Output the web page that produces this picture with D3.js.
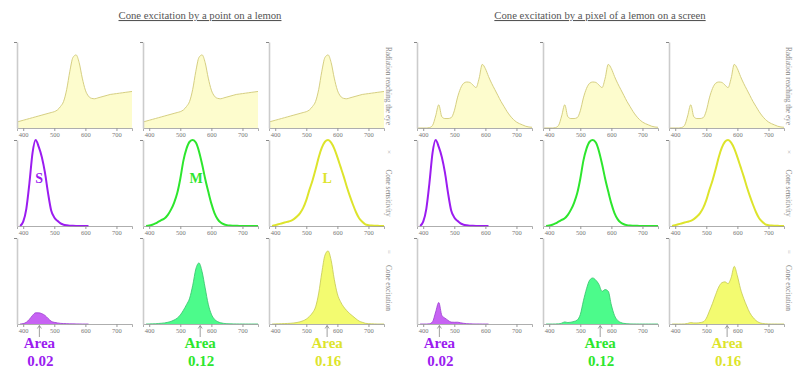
<!DOCTYPE html>
<html>
<head>
<meta charset="utf-8">
<script src="https://cdn.jsdelivr.net/npm/d3@7"></script>
<style>
  body { margin: 0; background: #fff; }
  svg { display: block; font-family: "Liberation Serif", serif; }
</style>
</head>
<body>
<div id="chart"></div>
<script>
// wavelength grid (nm)
const wavelengths = [380, 390, 400, 410, 420, 430, 440, 450, 460, 470, 480, 490, 500, 510, 520, 530, 540, 550, 560,
  570, 580, 590, 600, 610, 620, 630, 640, 650, 660, 670, 680, 690, 700, 710, 720, 730, 740, 750];

// radiation reaching the eye
const lemonPoint = [0.07, 0.08, 0.09, 0.10, 0.11, 0.12, 0.13, 0.14, 0.15, 0.16, 0.17, 0.18, 0.19, 0.21, 0.25, 0.31, 0.45, 0.66, 0.82,
  0.85, 0.76, 0.58, 0.44, 0.37, 0.345, 0.34, 0.35, 0.36, 0.37, 0.38, 0.39, 0.395, 0.40, 0.405, 0.41, 0.415, 0.42, 0.425];
const lemonScreen = [0, 0, 0, 0, 0.005, 0.03, 0.14, 0.27, 0.13, 0.11, 0.11, 0.12, 0.2, 0.35, 0.46, 0.52, 0.535, 0.53, 0.5,
  0.47, 0.58, 0.74, 0.69, 0.6, 0.52, 0.45, 0.38, 0.31, 0.25, 0.19, 0.14, 0.1, 0.07, 0.05, 0.035, 0.02, 0.012, 0.008];

// cone sensitivity
const coneS = [null, 0, 0.05, 0.2, 0.5, 0.85, 1.0, 0.92, 0.8, 0.62, 0.38, 0.18, 0.1, 0.06, 0.03, 0.015, 0.008, 0.004, 0.002,
  0.001, 0.001, 0, 0, 0, null, null, null, null, null, null, null, null, null, null, null, null, null, null];
const coneM = [null, 0, 0.005, 0.015, 0.03, 0.05, 0.07, 0.09, 0.13, 0.19, 0.27, 0.38, 0.55, 0.76, 0.9, 0.98, 1.0, 0.97, 0.87,
  0.72, 0.55, 0.4, 0.26, 0.15, 0.08, 0.04, 0.02, 0.01, 0.005, 0.003, 0.002, 0.001, 0.001, 0, 0, 0, 0, 0];
const coneL = [null, 0, 0.01, 0.02, 0.03, 0.04, 0.05, 0.06, 0.08, 0.11, 0.15, 0.21, 0.3, 0.42, 0.53, 0.66, 0.8, 0.91, 0.98,
  1.0, 0.97, 0.9, 0.8, 0.69, 0.58, 0.46, 0.35, 0.25, 0.16, 0.09, 0.05, 0.02, 0.01, 0.005, 0.003, 0.002, 0.001, 0];

// cone excitation, point on a lemon
const pointS = [null, 0, 0.005, 0.02, 0.055, 0.1, 0.13, 0.13, 0.12, 0.1, 0.065, 0.032, 0.019, 0.013, 0.0075, 0.005, 0.004, 0.002, 0.0016,
  0.001, 0.001, 0, 0, 0, null, null, null, null, null, null, null, null, null, null, null, null, null, null];
const pointM = [null, 0, 0.0005, 0.0015, 0.003, 0.006, 0.009, 0.013, 0.02, 0.03, 0.046, 0.068, 0.105, 0.16, 0.225, 0.3, 0.45, 0.64, 0.71,
  0.61, 0.42, 0.23, 0.114, 0.055, 0.028, 0.014, 0.007, 0.0036, 0.0018, 0.0011, 0.0008, 0.0004, 0.0004, 0, 0, 0, 0, 0];
const pointL = [null, 0, 0.001, 0.002, 0.0033, 0.0048, 0.0065, 0.0084, 0.012, 0.0176, 0.0255, 0.038, 0.057, 0.088, 0.13, 0.2, 0.36, 0.6, 0.8,
  0.85, 0.74, 0.52, 0.35, 0.26, 0.2, 0.156, 0.12, 0.09, 0.06, 0.034, 0.02, 0.008, 0.004, 0.002, 0.001, 0, 0, 0];

// cone excitation, pixel on a screen
const screenS = [null, 0, 0, 0, 0.0025, 0.026, 0.14, 0.25, 0.1, 0.068, 0.042, 0.022, 0.02, 0.021, 0.014, 0.008, 0.004, 0.002, 0.001,
  0.0005, 0.0006, 0, 0, 0, null, null, null, null, null, null, null, null, null, null, null, null, null, null];
const screenM = [null, 0, 0, 0, 0.0002, 0.0015, 0.01, 0.024, 0.017, 0.021, 0.03, 0.046, 0.11, 0.27, 0.41, 0.51, 0.535, 0.51, 0.46,
  0.38, 0.4, 0.38, 0.22, 0.1, 0.042, 0.018, 0.0076, 0.003, 0.0013, 0.0006, 0.0003, 0.0001, 0, 0, 0, 0, 0, 0];
const screenL = [null, 0, 0, 0, 0.0001, 0.0012, 0.007, 0.016, 0.012, 0.012, 0.0165, 0.025, 0.066, 0.15, 0.24, 0.34, 0.43, 0.48, 0.49,
  0.47, 0.54, 0.67, 0.56, 0.41, 0.3, 0.21, 0.13, 0.078, 0.04, 0.017, 0.007, 0.002, 0.0007, 0.0003, 0.0002, 0, 0, 0];

const coneNames = ["S", "M", "L"];
const areaValues = ["0.02", "0.12", "0.16"];
const arrowWavelengths = [452, 564, 567];
const letterWavelengths = [451, 551, 567];
const xTicks = [400, 500, 600, 700];
const rowLabels = ["Radiation reaching the eye", "Cone sensitivity", "Cone excitation"];
const titles = ["Cone excitation by a point on a lemon", "Cone excitation by a pixel of a lemon on a screen"];

const lineColors = ["#9b1cf0", "#2de62d", "#dde42c"];
const fillColors = ["#c763f3", "#4cfb8b", "#f3fb70"];
const fillStrokes = ["#9b3bd0", "#32c26a", "#c4c850"];

const W = 800, H = 377;
const panelLeft = 17, panelStep = 126, panelW = 115;
const rowTops = [42, 140, 238], panelH = 86;

const groups = [
  { gx: 0, title: titles[0], radiation: lemonPoint, excitation: [pointS, pointM, pointL], letters: true },
  { gx: 400, title: titles[1], radiation: lemonScreen, excitation: [screenS, screenM, screenL], letters: false }
];

const svg = d3.select("#chart").append("svg")
  .attr("width", W)
  .attr("height", H);

const x = d3.scaleLinear().domain([380, 750]).range([0, panelW]);

function series(values) {
  return wavelengths.map((w, i) => ({ w, v: values[i] }));
}

groups.forEach(grp => {
  const g = svg.append("g").attr("transform", `translate(${grp.gx},0)`);

  g.append("text")
    .attr("x", 200)
    .attr("y", 19)
    .attr("text-anchor", "middle")
    .attr("font-size", 10.7)
    .attr("fill", "#555")
    .attr("text-decoration", "underline")
    .text(grp.title);

  // side labels
  const sideY = [86, 193, 288];
  rowLabels.forEach((lab, r) => {
    g.append("text")
      .attr("transform", `translate(389,${sideY[r]}) rotate(90)`)
      .attr("text-anchor", "middle")
      .attr("dy", "0.35em")
      .attr("font-size", 7.3)
      .attr("fill", "#888")
      .text(lab);
  });
  [["×", 152], ["=", 252]].forEach(([op, oy]) => {
    g.append("text")
      .attr("transform", `translate(389,${oy}) rotate(90)`)
      .attr("text-anchor", "middle")
      .attr("dy", "0.35em")
      .attr("font-size", 7)
      .attr("fill", "#aaa")
      .text(op);
  });

  for (let c = 0; c < 3; c++) {
    const px = panelLeft + c * panelStep;
    const rows = [
      { data: grp.radiation, kind: "rad" },
      { data: [coneS, coneM, coneL][c], kind: "sens" },
      { data: grp.excitation[c], kind: "exc" }
    ];

    rows.forEach((row, r) => {
      const top = rowTops[r];
      const y = d3.scaleLinear().domain([0, 1]).range([panelH, 0]);
      const p = g.append("g").attr("transform", `translate(${px},${top})`);

      const pts = series(row.data);
      const area = d3.area()
        .defined(d => d.v !== null)
        .x(d => x(d.w))
        .y0(y(0))
        .y1(d => y(d.v))
        .curve(d3.curveMonotoneX);
      const line = d3.line()
        .defined(d => d.v !== null)
        .x(d => x(d.w))
        .y(d => y(d.v))
        .curve(d3.curveMonotoneX);

      if (row.kind === "rad") {
        p.append("path").attr("d", area(pts)).attr("fill", "#fdfccd");
        p.append("path").attr("d", line(pts)).attr("fill", "none")
          .attr("stroke", "#d6cf82").attr("stroke-width", 1);
      } else if (row.kind === "sens") {
        p.append("path").attr("d", line(pts)).attr("fill", "none")
          .attr("stroke", lineColors[c]).attr("stroke-width", 2);
      } else {
        p.append("path").attr("d", area(pts)).attr("fill", fillColors[c]);
        p.append("path").attr("d", line(pts)).attr("fill", "none")
          .attr("stroke", fillStrokes[c]).attr("stroke-width", 0.8);
      }

      // x axis
      const xa = p.append("g")
        .attr("transform", `translate(0,${panelH})`)
        .call(d3.axisBottom(x).tickValues(xTicks).tickSize(3).tickSizeOuter(3).tickPadding(1.5));
      xa.select(".domain").attr("stroke", "#999").attr("stroke-width", 0.8);
      xa.selectAll(".tick line").attr("stroke", "#999");
      xa.selectAll(".tick text").attr("fill", "#777").attr("font-size", 6.5)
        .attr("font-family", "Liberation Serif, serif");

      // y axis
      const ya = p.append("g")
        .call(d3.axisLeft(y).tickValues([1]).tickSize(3).tickSizeOuter(0).tickFormat(""));
      ya.select(".domain").attr("stroke", "#ccc").attr("stroke-width", 1.6);
      ya.selectAll(".tick line").attr("stroke", "#888");

      if (row.kind === "sens" && grp.letters) {
        p.append("text")
          .attr("x", x(letterWavelengths[c]))
          .attr("y", y(0.5))
          .attr("text-anchor", "middle")
          .attr("font-size", 14)
          .attr("font-weight", "bold")
          .attr("fill", lineColors[c])
          .text(coneNames[c]);
      }

      if (row.kind === "exc") {
        const ax = x(arrowWavelengths[c]);
        p.append("line")
          .attr("x1", ax).attr("x2", ax)
          .attr("y1", panelH + 13).attr("y2", panelH + 1.5)
          .attr("stroke", "#777").attr("stroke-width", 0.7);
        p.append("path")
          .attr("d", `M${ax - 2},${panelH + 4.5}L${ax},${panelH + 1.5}L${ax + 2},${panelH + 4.5}`)
          .attr("fill", "none").attr("stroke", "#777").attr("stroke-width", 0.7);
        p.append("text")
          .attr("x", ax)
          .attr("y", panelH + 24)
          .attr("text-anchor", "middle")
          .attr("font-size", 15)
          .attr("font-weight", "bold")
          .attr("fill", lineColors[c])
          .text("Area");
        p.append("text")
          .attr("x", ax + 1)
          .attr("y", panelH + 42)
          .attr("text-anchor", "middle")
          .attr("font-size", 15)
          .attr("font-weight", "bold")
          .attr("fill", lineColors[c])
          .text(areaValues[c]);
      }
    });
  }
});
</script>
</body>
</html>
